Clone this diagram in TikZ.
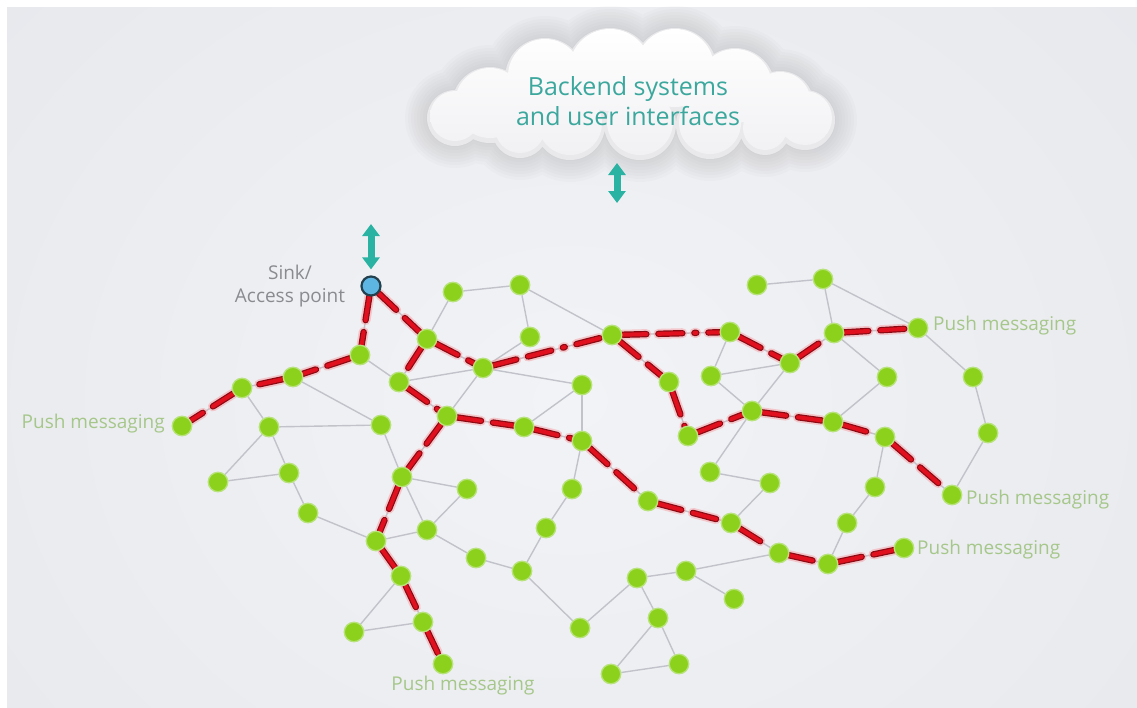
\documentclass[tikz,border=0pt]{standalone}
\usepackage{fontspec}
\setmainfont{Open Sans}
\usetikzlibrary{arrows.meta,fadings}

\definecolor{canvasMid}{HTML}{F2F3F6}
\definecolor{canvasEdge}{HTML}{E0E2E7}
\definecolor{leaf}{HTML}{8CD11C}
\definecolor{leafRim}{HTML}{B8E37C}
\definecolor{sinkFill}{HTML}{5DB6E2}
\definecolor{sinkRing}{HTML}{23404F}
\definecolor{wire}{HTML}{C2C3CA}
\definecolor{routeRed}{HTML}{E0101E}
\definecolor{routeDark}{HTML}{8A0A14}
\definecolor{routeGlow}{HTML}{F7A5AA}
\definecolor{arrowTeal}{HTML}{2AB2A2}
\definecolor{cloudText}{HTML}{3BA79D}
\definecolor{cloudBase}{HTML}{E9E9EC}
\definecolor{cloudLow}{HTML}{F1F1F4}
\definecolor{sinkText}{HTML}{8A8B90}
\definecolor{pushText}{HTML}{A6C78A}
\definecolor{barDark}{HTML}{8FA483}
\definecolor{barGlow}{HTML}{BCDD9C}

\tikzfading[name=fade ends, left color=transparent!100, middle color=transparent!0, right color=transparent!100]

\pgfdeclarelayer{back}
\pgfdeclarelayer{links}
\pgfsetlayers{back,links,main}

% outline of the cloud as a union of discs, grown by #1
\newcommand{\cloudshape}[1]{%
  (455,118) circle[radius={28+#1}]
  (490,105) circle[radius={38+#1}]
  (520,130) circle[radius={28+#1}]
  (545,78)  circle[radius={40+#1}]
  (610,72)  circle[radius={44+#1}]
  (675,70)  circle[radius={42+#1}]
  (735,88)  circle[radius={40+#1}]
  (780,105) circle[radius={34+#1}]
  (805,120) circle[radius={30+#1}]
  (570,125) circle[radius={35+#1}]
  (640,124) circle[radius={36+#1}]
  (710,125) circle[radius={34+#1}]
  (765,130) circle[radius={25+#1}]}

\tikzset{
  dev/.style={circle, fill=leaf, draw=leafRim, line width=1.3pt, minimum size=19.5pt, inner sep=0pt},
  sinknode/.style={circle, fill=sinkFill, draw=sinkRing, line width=2.2pt, minimum size=19pt, inner sep=0pt},
  link/.style={draw=wire, line width=1.4pt},
  routeglow/.style={draw=routeGlow, opacity=0.55, line width=10pt, line cap=round, dash pattern=on 24pt off 12pt on 24pt off 12pt on 2pt off 12pt},
  routeedge/.style={draw=routeDark, line width=6.4pt, line cap=round, dash pattern=on 24pt off 12pt on 24pt off 12pt on 2pt off 12pt},
  routecore/.style={draw=routeRed, line width=4pt, line cap=round, dash pattern=on 24pt off 12pt on 24pt off 12pt on 2pt off 12pt},
  uplink/.style={draw=arrowTeal, line width=7pt, {Triangle[width=17pt,length=12pt]}-{Triangle[width=17pt,length=12pt]}},
  pushlbl/.style={text=pushText, font=\fontsize{19}{22}\selectfont, inner sep=0pt},
}

\begin{document}
\begin{tikzpicture}[x=1pt,y=-1pt]
\useasboundingbox (0,0) rectangle (1137,707);

% ---------- backdrop ----------
\begin{pgfonlayer}{back}
  \fill[white] (0,0) rectangle (1137,707);
  \begin{scope}
    \clip (7,7) rectangle (1137,707);
    \shade[inner color=canvasMid, outer color=canvasEdge] (-700,-650) rectangle (1840,1450);
  \end{scope}

  % cloud with a soft halo
  \foreach \k in {22,19,16,13,10,7,4,1} \fill[black!70, opacity=0.018] \cloudshape{\k};
  \fill[cloudBase] \cloudshape{0};
  \shade[yshift=2pt, top color=white, bottom color=cloudLow] \cloudshape{-3};

  % horizontal bar
  \fill[barGlow, path fading=fade ends] (226,207) rectangle (1041,212);
  \fill[barDark, path fading=fade ends] (226,205) rectangle (1041,207.5);
\end{pgfonlayer}

\node[font=\fontsize{25}{30}\selectfont, text=cloudText, align=center] (cloud) at (628,101) {Backend systems\\and user interfaces};

\coordinate (cloudfoot) at (617,163);
\coordinate (barTop) at (617,203);
\coordinate (barUnder) at (371,224);

% ---------- devices ----------
\node[sinknode] (S) at (371,286) {};
\foreach \n/\x/\y in {
  n1/453/292, n2/520/285, n3/360/355, n4/427/339, n5/530/337, n6/612/335,
  n7/242/388, n8/293/377, n9/399/382, n10/483/368, n11/582/385, n12/447/416,
  n13/524/427, n14/582/441, n15/669/382, n16/688/436, n17/182/426, n18/269/427,
  n19/381/425, n20/218/482, n21/289/473, n22/308/513, n23/402/477, n24/467/489,
  n25/572/489, n26/648/501, n27/376/541, n28/427/530, n29/476/558, n30/546/528,
  n31/522/571, n32/401/576, n33/354/632, n34/423/622, n35/443/664, n36/580/628,
  n37/637/578, n38/686/571, n39/658/618, n40/734/599, n41/611/674, n42/679/664,
  n43/731/523, n44/710/472, n45/770/483, n46/779/553, n47/828/564, n48/904/548,
  n49/847/523, n50/875/487, n51/752/411, n52/711/376, n53/730/332, n54/757/285,
  n55/823/279, n56/834/333, n57/790/363, n58/887/377, n59/918/328, n60/833/422,
  n61/885/437, n62/973/377, n63/988/433, n64/952/495}
  \node[dev] (\n) at (\x,\y) {};

% ---------- labels ----------
\node[text=sinkText, font=\fontsize{19}{23}\selectfont, align=center, inner sep=0pt] (sinklabel) at (290,286) {Sink/\\Access point};
\node[pushlbl, anchor=east] (pmLeft) at (165,424) {Push messaging};
\node[pushlbl, anchor=west] (pmTop) at (933,326) {Push messaging};
\node[pushlbl, anchor=west] (pmMid) at (966,500) {Push messaging};
\node[pushlbl, anchor=west] (pmLow) at (917,550) {Push messaging};
\node[pushlbl] (pmBottom) at (463,686) {Push messaging};

% ---------- uplinks ----------
\draw[uplink] (cloudfoot) -- (barTop);
\draw[uplink, shorten >=6pt] (barUnder) -- (S);

% ---------- mesh links ----------
\begin{pgfonlayer}{links}
\foreach \a/\b in {
  S/n3, S/n4, n1/n2, n1/n4, n2/n5, n2/n6, n3/n8, n3/n9, n4/n9, n4/n10,
  n5/n10, n6/n10, n6/n53, n6/n15, n7/n8, n7/n17, n7/n18, n8/n19,
  n9/n10, n9/n12, n10/n11, n10/n12, n11/n13, n11/n14, n12/n13, n12/n23,
  n13/n14, n14/n25, n14/n26, n15/n16, n16/n51, n18/n19, n18/n20, n18/n21,
  n19/n23, n20/n21, n21/n22, n22/n27, n23/n24, n23/n27, n23/n28, n24/n28,
  n25/n30, n30/n31, n29/n31, n28/n29, n27/n28, n27/n32, n32/n33, n32/n34,
  n33/n34, n34/n35, n31/n36, n36/n37, n37/n38, n37/n39, n38/n40, n38/n46,
  n39/n41, n39/n42, n41/n42, n26/n43, n43/n45, n43/n46, n44/n45, n44/n51,
  n46/n47, n47/n48, n47/n49, n49/n50, n50/n61, n51/n52, n51/n57, n51/n60,
  n52/n53, n52/n57, n53/n57, n54/n55, n55/n56, n55/n59, n56/n57, n56/n58,
  n56/n59, n58/n60, n60/n61, n61/n64, n59/n62, n62/n63, n63/n64}
  \draw[link] (\a) -- (\b);

% routes towards the sink
\foreach \a/\b in {
  S/n3, n3/n8, n8/n7, n7/n17,
  S/n4, n4/n10, n10/n6, n6/n53, n53/n57, n57/n56, n56/n59,
  n6/n15, n15/n16, n16/n51, n51/n60, n60/n61, n61/n64,
  n4/n9, n9/n12, n12/n13, n13/n14, n14/n26, n26/n43, n43/n46, n46/n47, n47/n48,
  n12/n23, n23/n27, n27/n32, n32/n34, n34/n35}
  {\draw[routeglow] (\a) -- (\b);
   \draw[routeedge] (\a) -- (\b);
   \draw[routecore] (\a) -- (\b);}
\end{pgfonlayer}
\end{tikzpicture}
\end{document}
